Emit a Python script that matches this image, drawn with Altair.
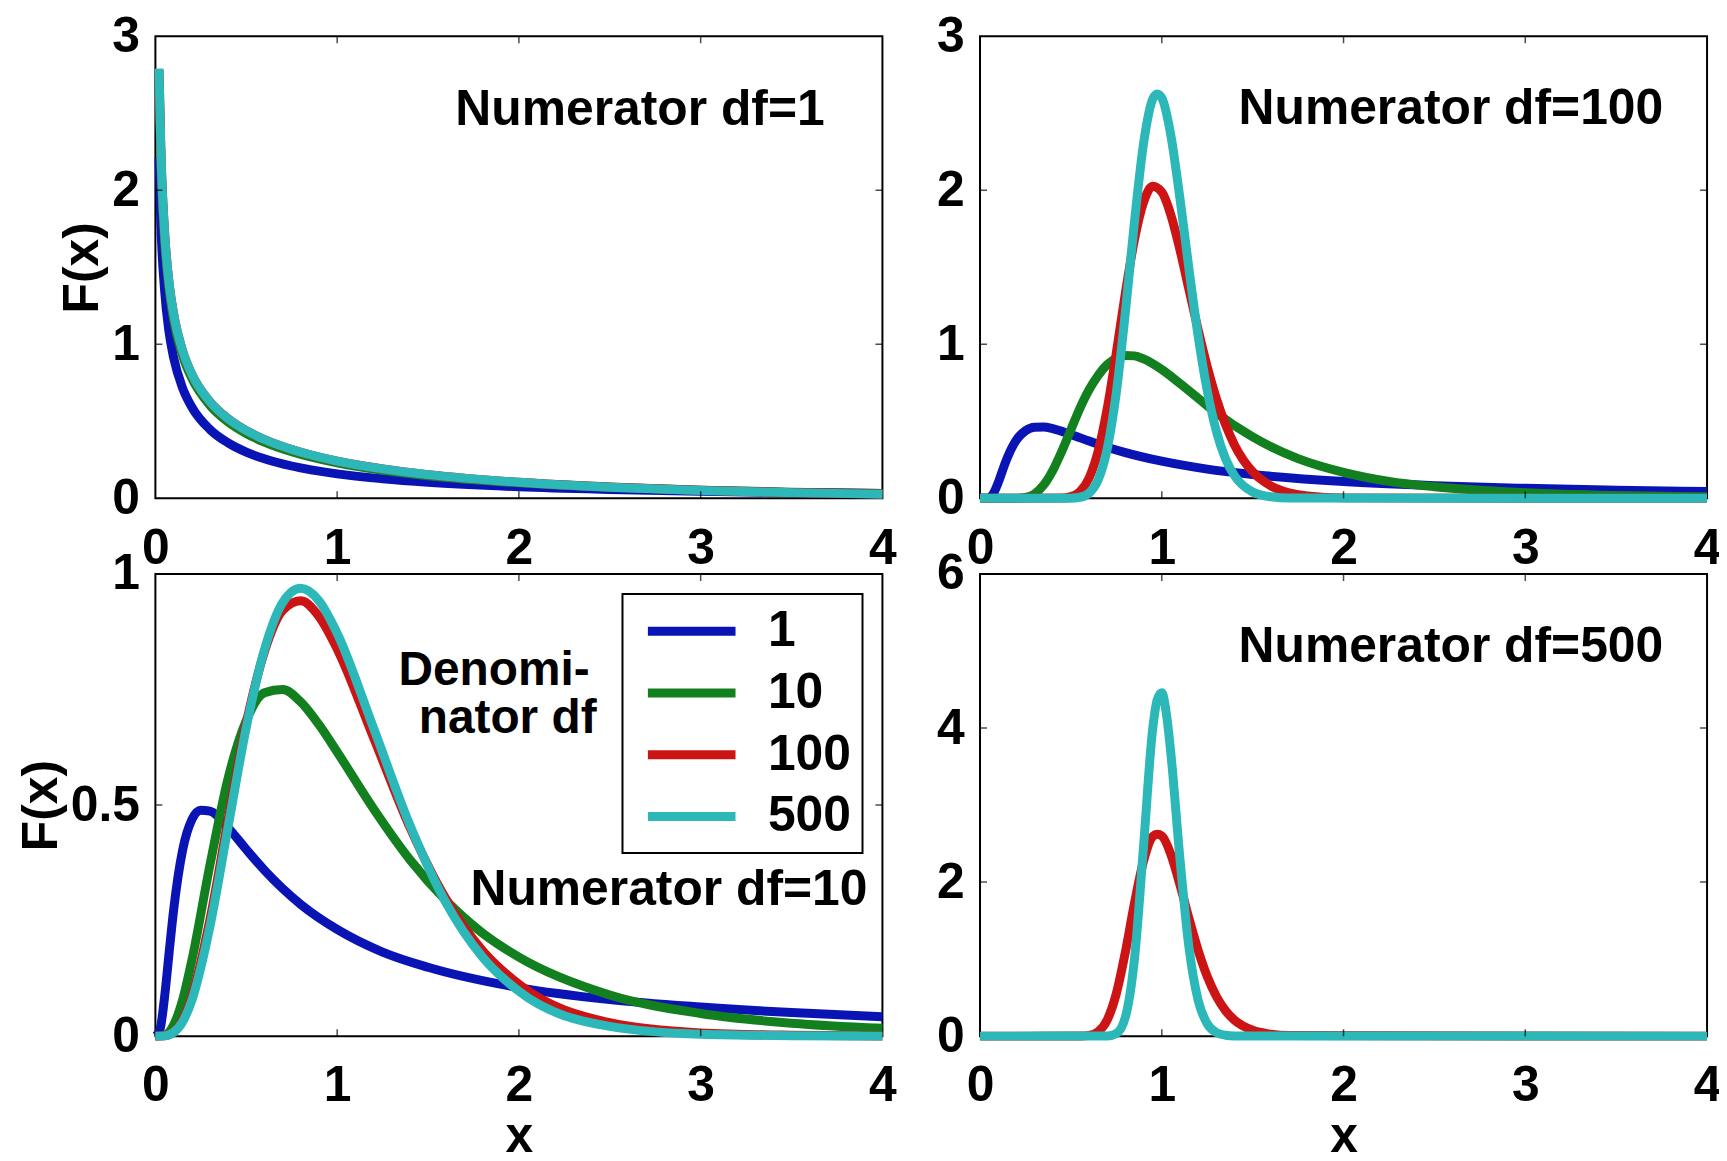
import altair as alt
import pandas as pd

FONT = "Liberation Sans, Arial, Helvetica, sans-serif"
SERIES = ["1", "10", "100", "500"]
COLORS = ["#0a14b4", "#13801f", "#cc1414", "#2cb8b8"]
X_TICKS = [0, 1, 2, 3, 4]

# ---- Panel 1: numerator df = 1 ----
P1_X = [0.02, 0.03, 0.05, 0.075, 0.1, 0.15, 0.2, 0.3, 0.4, 0.5, 0.6, 0.75, 1.0, 1.25, 1.5, 2.0, 2.5, 3.0, 3.5, 4.0]
P1_D1 = [2.21, 1.78, 1.36, 1.08, 0.915, 0.715, 0.593, 0.447, 0.360, 0.300, 0.257, 0.210, 0.159, 0.127, 0.104, 0.075, 0.058, 0.046, 0.038, 0.032]
P1_D10 = [2.72, 2.21, 1.69, 1.36, 1.16, 0.925, 0.780, 0.604, 0.496, 0.421, 0.365, 0.302, 0.230, 0.182, 0.147, 0.101, 0.072, 0.053, 0.040, 0.031]
P1_D100 = [2.78, 2.26, 1.74, 1.40, 1.20, 0.955, 0.806, 0.626, 0.516, 0.439, 0.382, 0.317, 0.241, 0.191, 0.154, 0.104, 0.073, 0.052, 0.038, 0.028]
P1_D500 = [2.79, 2.27, 1.74, 1.40, 1.20, 0.956, 0.807, 0.627, 0.516, 0.439, 0.382, 0.317, 0.242, 0.191, 0.154, 0.104, 0.072, 0.051, 0.037, 0.027]

# ---- Panel 2: numerator df = 100 ----
P2_X_D1 = [0, 0.04, 0.06, 0.075, 0.1, 0.125, 0.15, 0.2, 0.25, 0.3, 0.35, 0.4, 0.5, 0.6, 0.7, 0.8, 1.0, 1.25, 1.5, 2.0, 2.5, 3.0, 3.5, 4.0]
P2_D1 = [0, 0.0, 0.012, 0.035, 0.102, 0.185, 0.263, 0.379, 0.439, 0.462, 0.463, 0.452, 0.414, 0.372, 0.332, 0.297, 0.241, 0.190, 0.155, 0.109, 0.082, 0.065, 0.053, 0.044]
P2_X_D10 = [0, 0.2, 0.25, 0.3, 0.35, 0.4, 0.45, 0.5, 0.55, 0.6, 0.65, 0.7, 0.75, 0.8, 0.85, 0.9, 1.0, 1.1, 1.2, 1.3, 1.5, 1.75, 2.0, 2.25, 2.5, 3.0, 3.5, 4.0]
P2_D10 = [0, 0.0005, 0.006, 0.029, 0.086, 0.180, 0.306, 0.446, 0.586, 0.705, 0.799, 0.868, 0.909, 0.928, 0.925, 0.905, 0.836, 0.745, 0.650, 0.555, 0.399, 0.258, 0.169, 0.110, 0.075, 0.036, 0.018, 0.010]
P2_X_D100 = [0, 0.45, 0.5, 0.55, 0.6, 0.65, 0.7, 0.75, 0.8, 0.85, 0.9, 0.95, 1.0, 1.05, 1.1, 1.15, 1.2, 1.25, 1.3, 1.4, 1.5, 1.6, 1.7, 1.8, 2.0, 4.0]
P2_D100 = [0, 0.002, 0.011, 0.044, 0.132, 0.306, 0.584, 0.946, 1.335, 1.682, 1.923, 2.026, 1.988, 1.839, 1.613, 1.354, 1.094, 0.855, 0.649, 0.347, 0.172, 0.081, 0.036, 0.016, 0.003, 0]
P2_X_D500 = [0, 0.5, 0.55, 0.6, 0.65, 0.7, 0.75, 0.8, 0.85, 0.9, 0.95, 0.975, 1.0, 1.05, 1.1, 1.15, 1.2, 1.25, 1.3, 1.35, 1.4, 1.5, 1.6, 1.7, 4.0]
P2_D500 = [0, 0.001, 0.007, 0.034, 0.120, 0.322, 0.688, 1.211, 1.799, 2.306, 2.592, 2.625, 2.600, 2.355, 1.947, 1.485, 1.054, 0.700, 0.437, 0.259, 0.147, 0.041, 0.010, 0.002, 0]

# ---- Panel 3: numerator df = 10 ----
P3_X_D1 = [0, 0.025, 0.05, 0.075, 0.1, 0.15, 0.2, 0.25, 0.3, 0.4, 0.5, 0.6, 0.8, 1.0, 1.25, 1.5, 2.0, 2.5, 3.0, 3.5, 4.0]
P3_D1 = [0, 0.014, 0.083, 0.179, 0.272, 0.403, 0.468, 0.489, 0.487, 0.451, 0.404, 0.359, 0.285, 0.231, 0.182, 0.149, 0.105, 0.079, 0.063, 0.051, 0.042]
P3_X = [0, 0.05, 0.1, 0.15, 0.2, 0.3, 0.4, 0.5, 0.6, 0.7, 0.8, 0.9, 1.0, 1.2, 1.4, 1.6, 1.8, 2.0, 2.5, 3.0, 3.5, 4.0]
P3_D10 = [0, 0.002, 0.024, 0.079, 0.163, 0.370, 0.558, 0.683, 0.743, 0.750, 0.723, 0.674, 0.615, 0.492, 0.382, 0.293, 0.223, 0.171, 0.089, 0.049, 0.028, 0.017]
P3_D100 = [0, 0.001, 0.009, 0.035, 0.085, 0.252, 0.469, 0.677, 0.832, 0.921, 0.942, 0.908, 0.838, 0.646, 0.452, 0.296, 0.185, 0.112, 0.029, 0.007, 0.002, 0.0005]
P3_D500 = [0, 0.0006, 0.008, 0.031, 0.077, 0.237, 0.453, 0.668, 0.836, 0.938, 0.969, 0.942, 0.872, 0.667, 0.457, 0.288, 0.171, 0.097, 0.021, 0.004, 0.001, 0.0]

# ---- Panel 4: numerator df = 500 ----
P4_X_D100 = [0, 0.55, 0.6, 0.65, 0.7, 0.75, 0.8, 0.85, 0.9, 0.95, 0.975, 1.0, 1.05, 1.1, 1.15, 1.2, 1.25, 1.3, 1.35, 1.4, 1.5, 1.6, 1.7, 4.0]
P4_D100 = [0, 0.001, 0.010, 0.058, 0.212, 0.554, 1.095, 1.729, 2.278, 2.592, 2.620, 2.600, 2.360, 1.965, 1.524, 1.114, 0.775, 0.518, 0.333, 0.208, 0.076, 0.026, 0.008, 0]
P4_X_D500 = [0, 0.7, 0.75, 0.8, 0.85, 0.9, 0.95, 0.975, 1.0, 1.025, 1.05, 1.1, 1.15, 1.2, 1.25, 1.3, 1.35, 1.4, 4.0]
P4_D500 = [0, 0.002, 0.034, 0.250, 1.008, 2.477, 3.992, 4.370, 4.460, 4.190, 3.670, 2.301, 1.144, 0.467, 0.160, 0.047, 0.012, 0.003, 0]


def lines_df(curves):
    rows = []
    for name, xs, ys in curves:
        for x, y in zip(xs, ys):
            rows.append({"x": x, "y": y, "s": name})
    return pd.DataFrame(rows)


def panel(df, ymax, yticks, ytitle, xtitle, notes, legend):
    xs = alt.Scale(domain=[0, 4], nice=False, zero=False)
    ys = alt.Scale(domain=[0, ymax], nice=False, zero=False)
    xaxis = alt.Axis(values=X_TICKS, title=xtitle)
    yaxis = alt.Axis(values=yticks, format="~g", title=ytitle)
    color = alt.Color("s:N", scale=alt.Scale(domain=SERIES, range=COLORS), legend=legend)
    lines = alt.Chart(df).mark_line(strokeWidth=9, interpolate="monotone").encode(
        x=alt.X("x:Q", scale=xs, axis=xaxis),
        y=alt.Y("y:Q", scale=ys, axis=yaxis),
        color=color,
    )
    inner_x = [v for v in X_TICKS if 0 < v < 4]
    inner_y = [v for v in yticks if 0 < v < ymax]
    tx = pd.DataFrame({"x": inner_x * 2, "y": [0] * len(inner_x) + [ymax] * len(inner_x)})
    ty = pd.DataFrame({"x": [0] * len(inner_y) + [4] * len(inner_y), "y": inner_y * 2})
    ticks_x = alt.Chart(tx).mark_tick(orient="vertical", size=14, thickness=1.5, color="black", clip=True).encode(
        x=alt.X("x:Q", scale=xs, axis=xaxis), y=alt.Y("y:Q", scale=ys, axis=yaxis))
    ticks_y = alt.Chart(ty).mark_tick(orient="horizontal", size=14, thickness=1.5, color="black", clip=True).encode(
        x=alt.X("x:Q", scale=xs, axis=xaxis), y=alt.Y("y:Q", scale=ys, axis=yaxis))
    layers = [lines, ticks_x, ticks_y]
    for text, px, py, fs in notes:
        layers.append(
            alt.Chart(pd.DataFrame({"t": [text]})).mark_text(
                font=FONT, fontSize=fs, fontWeight="bold", color="black", align="right", baseline="alphabetic"
            ).encode(text="t:N", x=alt.value(px), y=alt.value(py))
        )
    return alt.layer(*layers).properties(width=730, height=464)


p1 = panel(lines_df([("1", P1_X, P1_D1), ("10", P1_X, P1_D10), ("100", P1_X, P1_D100), ("500", P1_X, P1_D500)]),
           3, [0, 1, 2, 3], "F(x)", None, [("Numerator df=1", 672, 89, 50)], None)
p2 = panel(lines_df([("1", P2_X_D1, P2_D1), ("10", P2_X_D10, P2_D10), ("100", P2_X_D100, P2_D100), ("500", P2_X_D500, P2_D500)]),
           3, [0, 1, 2, 3], None, None, [("Numerator df=100", 686, 88, 50)], None)
legend = alt.Legend(
    title=None, orient="top-right", offset=20, padding=11, rowPadding=10,
    symbolType="M-2,0L2,0", symbolSize=1936, symbolStrokeWidth=9, symbolOffset=32,
    labelOffset=50, labelFont=FONT, labelFontSize=50, labelFontWeight="bold", labelColor="black",
    strokeColor="black", fillColor="white",
)
p3 = panel(lines_df([("1", P3_X_D1, P3_D1), ("10", P3_X, P3_D10), ("100", P3_X, P3_D100), ("500", P3_X, P3_D500)]),
           1, [0, 0.5, 1], "F(x)", "x",
           [("Numerator df=10", 715, 332, 50), ("Denomi-", 436, 111, 48), ("nator df", 443, 160, 48)], legend)
p4 = panel(lines_df([("100", P4_X_D100, P4_D100), ("500", P4_X_D500, P4_D500)]),
           6, [0, 2, 4, 6], None, "x", [("Numerator df=500", 686, 88, 50)], None)

chart = alt.concat(p1, p2, p3, p4, columns=2, spacing={"row": 76, "column": 98}, bounds="flush"
).resolve_scale(color="independent").resolve_legend(color="independent")

chart = chart.properties(
    padding={"left": 7, "right": -7, "top": 0, "bottom": -10}, background="white"
).configure_view(
    stroke="black", strokeWidth=2, fill="white"
).configure_axis(
    labelFont=FONT, labelFontSize=50, labelFontWeight="bold", labelColor="black",
    titleFont=FONT, titleFontSize=50, titleFontWeight="bold", titleColor="black",
    grid=False, domain=False, ticks=False, labelFlush=False, labelOverlap=False,
).configure_axisX(labelPadding=25, titlePadding=1).configure_axisY(labelPadding=16, titlePadding=4
).configure_legend(strokeWidth=2)

chart.save("out.html", embed_options={"renderer": "svg", "actions": False})
